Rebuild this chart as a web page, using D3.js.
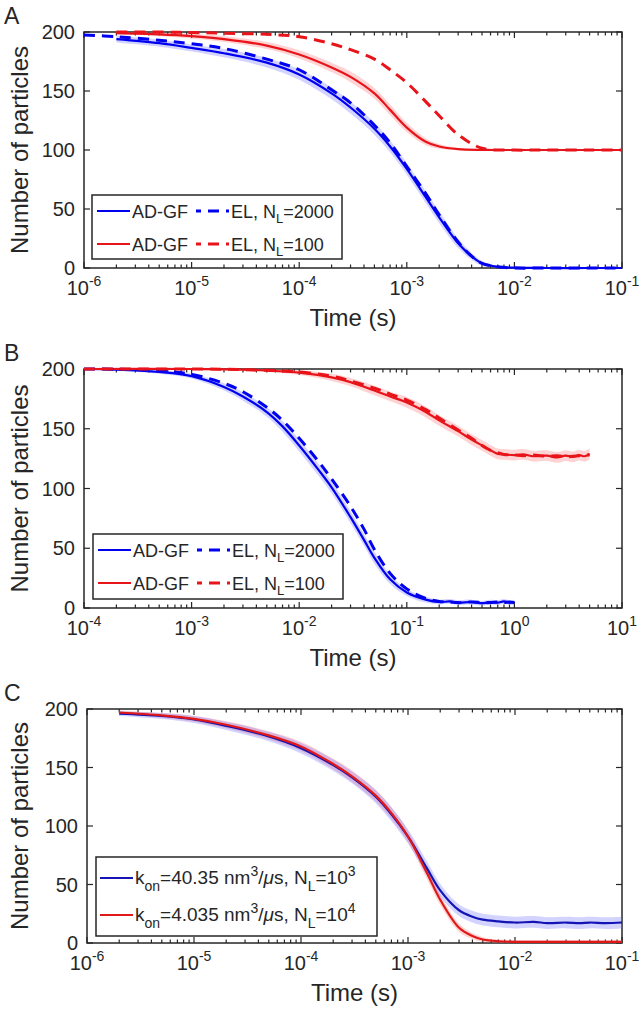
<!DOCTYPE html>
<html>
<head>
<meta charset="utf-8">
<script src="https://cdn.jsdelivr.net/npm/d3@7"></script>
<style>
  body { margin: 0; background: #fff; }
  svg { display: block; font-family: "Liberation Sans", Arial, Helvetica, sans-serif; }
  text { fill: #262626; }
</style>
</head>
<body>
<svg id="fig" width="641" height="1019"></svg>
<script>
// ---- panel A data ----
var aBlueT   = [2e-6, 5e-6, 1e-5, 2e-5, 5e-5, 1e-4, 2e-4, 3e-4, 5e-4, 7e-4, 1e-3, 1.5e-3, 2e-3, 3e-3, 4e-3, 5e-3, 7e-3, 1e-2, 2e-2, 5e-2, 1e-1];
var aBlueGF  = [194, 190.5, 186.5, 182, 174, 164, 148, 136, 118, 103, 84, 60, 43, 21, 10, 4, 1, 0.3, 0, 0, 0];
var aBlueBand = [3, 3, 3, 3.5, 4, 4.5, 5, 5, 5, 5, 5, 5, 5, 4, 3, 2, 1, 0.5, 0, 0, 0];
var aBlueElT = [1e-6, 2e-6, 5e-6, 1e-5, 2e-5, 5e-5, 1e-4, 2e-4, 3e-4, 5e-4, 7e-4, 1e-3, 1.5e-3, 2e-3, 3e-3, 4e-3, 5e-3, 7e-3, 1e-2, 2e-2, 5e-2, 1e-1];
var aBlueEL  = [197.5, 196, 193, 190, 186, 177, 168, 151, 140, 121, 106, 86, 63, 45, 22, 10, 4, 1, 0, 0, 0, 0];
var aRedT    = [2e-6, 5e-6, 1e-5, 2e-5, 5e-5, 1e-4, 2e-4, 3e-4, 5e-4, 7e-4, 1e-3, 1.5e-3, 2e-3, 3e-3, 5e-3, 1e-2, 2e-2, 5e-2, 1e-1];
var aRedGF   = [199, 198, 196.5, 194, 188.5, 181, 170, 162, 148, 134, 119, 107, 103, 100.8, 100.1, 100, 100, 100, 100];
var aRedBand = [1, 1.5, 2, 2.5, 3, 3.5, 4, 4.5, 4.5, 4.5, 4, 3, 2, 1, 0.5, 0.3, 0.3, 0.3, 0.3];
var aRedEL   = [200, 200, 199.5, 199, 198, 196, 190, 185, 177, 168, 157, 141, 129, 113, 101.5, 100, 100, 100, 100];

// ---- panel B data ----
var bBlueT   = [1e-4, 2e-4, 5e-4, 1e-3, 2e-3, 3e-3, 5e-3, 7e-3, 1e-2, 1.5e-2, 2e-2, 3e-2, 4e-2, 5e-2, 7e-2, 1e-1, 1.5e-1, 2e-1, 2.5e-1, 3e-1, 4e-1, 5e-1, 6e-1, 7e-1, 8e-1, 9e-1, 1];
var bBlueGF  = [200, 199.5, 197.5, 194, 185, 177, 164, 152, 136, 116, 101, 76, 57, 42, 24, 13, 7, 5, 5.5, 4.5, 5, 4, 5, 4.5, 5.5, 4.5, 5];
var bBlueEL  = [200, 199.8, 198.5, 195.5, 188, 181, 168, 157, 142, 123, 108, 85, 66, 49, 29, 16, 8, 5.5, 5, 4.5, 5, 4.5, 4.5, 5, 4.5, 5, 4.5];
var bBlueBand = [0.5, 1, 1.5, 2, 3, 3.5, 4, 4.5, 5, 5, 5, 5, 5, 5, 4, 3, 2.5, 2, 2, 2, 2, 2, 2, 2, 2, 2, 2];
var bRedT    = [1e-4, 1e-3, 3e-3, 1e-2, 2e-2, 3e-2, 5e-2, 7e-2, 1e-1, 1.5e-1, 2e-1, 3e-1, 4e-1, 5e-1, 6e-1, 7e-1, 8e-1, 1, 1.2, 1.5, 2, 2.5, 3, 3.5, 4, 4.5, 5];
var bRedGF   = [200, 200, 199.5, 197, 193, 189, 182, 177, 172, 164, 157, 148, 141, 136, 132, 129, 128.5, 128, 128.5, 127, 127.5, 126, 127.5, 126.5, 128, 127, 129];
var bRedEL   = [200, 200, 199.5, 197.5, 194, 190, 184, 179, 174, 166, 159, 149, 142, 136, 132, 130, 128.5, 128, 127.5, 128, 127, 127.5, 126.5, 127, 127.5, 128, 128];
var bRedBand = [0.5, 0.5, 1, 2, 3, 3.5, 4, 4, 4.5, 4.5, 4.5, 4.5, 4.5, 4.5, 4.5, 4.5, 4.5, 4.5, 4.5, 4.5, 4.5, 4.5, 4.5, 4.5, 4.5, 4.5, 4.5];

// ---- panel C data ----
var cT       = [2e-6, 5e-6, 1e-5, 2e-5, 5e-5, 1e-4, 2e-4, 3e-4, 5e-4, 7e-4, 1e-3, 1.5e-3, 2e-3, 3e-3, 4e-3, 5e-3, 7e-3, 1e-2, 1.5e-2, 2e-2, 3e-2, 4e-2, 5e-2, 7e-2, 1e-1];
var cBlue    = [196, 194, 191, 185.5, 176.5, 166.5, 152, 141.5, 125, 110, 91, 64, 45, 28, 22.5, 20, 18.5, 17.5, 18, 17, 17.5, 17, 17.5, 17, 17.5];
var cBlueBand = [2, 2.5, 3, 3.5, 4, 4.5, 5, 5, 5.5, 6, 6, 6, 5.5, 5, 5, 5, 5, 5, 5, 5, 5, 5, 5, 5, 5];
var cRed     = [197, 194.5, 191.5, 186.5, 177.5, 168, 153, 142.5, 126, 111, 91, 60, 37, 13, 6, 3, 1.5, 1, 1, 1, 1, 1, 1, 1, 1];
var cRedBand = [1.5, 2, 2.5, 3, 3.5, 4, 4.5, 5, 5, 5, 5, 5, 4.5, 3.5, 2.5, 2, 1.5, 1.5, 1.5, 1.5, 1.5, 1.5, 1.5, 1.5, 1.5];

var yTicks = [0, 50, 100, 150, 200];

var BLUE = "#0000f0", RED = "#e8141a";
var BLUE_C = "#1414b4", RED_C = "#e01818";
var BLUE_BAND = "rgba(110,110,255,0.30)", RED_BAND = "rgba(255,110,110,0.30)";
var DARK = "#262626";

var svg = d3.select("#fig");

function pts(ts, vs) { return ts.map(function(t, i) { return {t: t, v: vs[i]}; }); }
function bandPts(ts, vs, ws) { return ts.map(function(t, i) { return {t: t, lo: vs[i] - ws[i], hi: vs[i] + ws[i]}; }); }

function panel(cfg) {
  var x = d3.scaleLog().domain(cfg.xDomain).range([cfg.left, cfg.right]);
  var y = d3.scaleLinear().domain([0, 200]).range([cfg.bottom, cfg.top]);
  var g = svg.append("g");

  // panel letter
  g.append("text").attr("x", 4).attr("y", cfg.top - 8)
    .style("font-size", "23px").text(cfg.letter);

  // frame
  g.append("rect").attr("x", cfg.left).attr("y", cfg.top)
    .attr("width", cfg.right - cfg.left).attr("height", cfg.bottom - cfg.top)
    .attr("fill", "none").attr("stroke", DARK).attr("stroke-width", 1.5);

  // x ticks (log major + minor), inward on bottom and top
  var lo = Math.round(Math.log10(cfg.xDomain[0])), hi = Math.round(Math.log10(cfg.xDomain[1]));
  for (var e = lo; e <= hi; e++) {
    for (var m = 1; m <= 9; m++) {
      var tv = m * Math.pow(10, e);
      if (tv > cfg.xDomain[1] * 1.0001) break;
      var len = m === 1 ? 6 : 3.5;
      var xp = x(tv);
      g.append("line").attr("x1", xp).attr("x2", xp).attr("y1", cfg.bottom).attr("y2", cfg.bottom - len)
        .attr("stroke", DARK).attr("stroke-width", 1.2);
      g.append("line").attr("x1", xp).attr("x2", xp).attr("y1", cfg.top).attr("y2", cfg.top + len)
        .attr("stroke", DARK).attr("stroke-width", 1.2);
    }
    var lab = g.append("text").attr("x", x(Math.pow(10, e))).attr("y", cfg.bottom + 27)
      .attr("text-anchor", "middle").style("font-size", "20px");
    lab.append("tspan").text("10");
    lab.append("tspan").attr("dy", -9).style("font-size", "14px").text(String(e));
  }

  // y ticks
  yTicks.forEach(function(v) {
    g.append("line").attr("x1", cfg.left).attr("x2", cfg.left + 6).attr("y1", y(v)).attr("y2", y(v))
      .attr("stroke", DARK).attr("stroke-width", 1.2);
    g.append("line").attr("x1", cfg.right).attr("x2", cfg.right - 6).attr("y1", y(v)).attr("y2", y(v))
      .attr("stroke", DARK).attr("stroke-width", 1.2);
    g.append("text").attr("x", cfg.left - 9).attr("y", y(v) + 7)
      .attr("text-anchor", "end").style("font-size", "20px").text(v);
  });

  // axis titles
  g.append("text").attr("x", (cfg.left + cfg.right) / 2).attr("y", cfg.bottom + 58)
    .attr("text-anchor", "middle").style("font-size", "24px").text("Time (s)");
  g.append("text")
    .attr("transform", "translate(" + 28 + "," + (cfg.top + cfg.bottom) / 2 + ") rotate(-90)")
    .attr("text-anchor", "middle").style("font-size", "24px").text("Number of particles");

  var line = d3.line().x(function(d) { return x(d.t); }).y(function(d) { return y(d.v); })
    .curve(d3.curveCatmullRom.alpha(0.5));
  var area = d3.area().x(function(d) { return x(d.t); })
    .y0(function(d) { return y(Math.max(0, d.lo)); }).y1(function(d) { return y(Math.min(200, d.hi)); })
    .curve(d3.curveCatmullRom.alpha(0.5));

  cfg.bands.forEach(function(b) {
    g.append("path").datum(b.data).attr("d", area).attr("fill", b.color).attr("stroke", "none");
  });
  cfg.series.forEach(function(s) {
    g.append("path").datum(s.data).attr("d", line).attr("fill", "none")
      .attr("stroke", s.color).attr("stroke-width", s.dash ? 3 : 2.2)
      .attr("stroke-dasharray", s.dash ? "11,7" : null);
  });
  return g;
}

function sub(t, s) { t.append("tspan").attr("dy", 5).style("font-size", "13px").text(s); }

function legendAB(g, bx, by, bw, bh) {
  g.append("rect").attr("x", bx).attr("y", by).attr("width", bw).attr("height", bh)
    .attr("fill", "#fff").attr("stroke", DARK).attr("stroke-width", 1.5);
  var rows = [{c: BLUE, n: "2000"}, {c: RED, n: "100"}];
  rows.forEach(function(r, i) {
    var cy = by + 16 + i * 33;
    g.append("line").attr("x1", bx + 5).attr("x2", bx + 38).attr("y1", cy).attr("y2", cy)
      .attr("stroke", r.c).attr("stroke-width", 2);
    g.append("text").attr("x", bx + 40).attr("y", cy + 6.5).style("font-size", "18px").text("AD-GF");
    g.append("line").attr("x1", bx + 104).attr("x2", bx + 137).attr("y1", cy).attr("y2", cy)
      .attr("stroke", r.c).attr("stroke-width", 3).attr("stroke-dasharray", "5,7,11,7,5");
    var t = g.append("text").attr("x", bx + 139).attr("y", cy + 6.5).style("font-size", "18px");
    t.append("tspan").text("EL, N");
    sub(t, "L");
    t.append("tspan").attr("dy", -5).text("=" + r.n);
  });
}

// Panel A
var gA = panel({
  letter: "A", left: 84, right: 622, top: 32, bottom: 268, xDomain: [1e-6, 1e-1],
  bands: [{data: bandPts(aRedT, aRedGF, aRedBand), color: RED_BAND},
          {data: bandPts(aBlueT, aBlueGF, aBlueBand), color: BLUE_BAND}],
  series: [{data: pts(aBlueT, aBlueGF), color: BLUE},
           {data: pts(aRedT, aRedGF), color: RED},
           {data: pts(aBlueElT, aBlueEL), color: BLUE, dash: true},
           {data: pts(aRedT, aRedEL), color: RED, dash: true}]
});
legendAB(gA, 92, 195, 250, 64);

// Panel B
var gB = panel({
  letter: "B", left: 84, right: 622, top: 369, bottom: 608, xDomain: [1e-4, 1e1],
  bands: [{data: bandPts(bRedT, bRedGF, bRedBand), color: RED_BAND},
          {data: bandPts(bBlueT, bBlueGF, bBlueBand), color: BLUE_BAND}],
  series: [{data: pts(bBlueT, bBlueGF), color: BLUE},
           {data: pts(bRedT, bRedGF), color: RED},
           {data: pts(bBlueT, bBlueEL), color: BLUE, dash: true},
           {data: pts(bRedT, bRedEL), color: RED, dash: true}]
});
legendAB(gB, 93, 534, 250, 65);

// Panel C
var gC = panel({
  letter: "C", left: 87, right: 622, top: 709, bottom: 943, xDomain: [1e-6, 1e-1],
  bands: [{data: bandPts(cT, cRed, cRedBand), color: RED_BAND},
          {data: bandPts(cT, cBlue, cBlueBand), color: BLUE_BAND}],
  series: [{data: pts(cT, cBlue), color: BLUE_C},
           {data: pts(cT, cRed), color: RED_C}]
});
(function() {
  var bx = 96, by = 857, bw = 281, bh = 79;
  gC.append("rect").attr("x", bx).attr("y", by).attr("width", bw).attr("height", bh)
    .attr("fill", "#fff").attr("stroke", DARK).attr("stroke-width", 1.5);
  var rows = [{c: BLUE_C, k: "40.35", n: "3"}, {c: RED_C, k: "4.035", n: "4"}];
  rows.forEach(function(r, i) {
    var cy = by + 21 + i * 37;
    gC.append("line").attr("x1", bx + 4).attr("x2", bx + 37).attr("y1", cy).attr("y2", cy)
      .attr("stroke", r.c).attr("stroke-width", 2);
    var t = gC.append("text").attr("x", bx + 39).attr("y", cy + 6).style("font-size", "19px");
    t.append("tspan").text("k");
    t.append("tspan").attr("dy", 7).style("font-size", "14px").text("on");
    t.append("tspan").attr("dy", -7).text("=" + r.k + " nm");
    t.append("tspan").attr("dy", -8).style("font-size", "14px").text("3");
    t.append("tspan").attr("dy", 8).text("/");
    t.append("tspan").style("font-style", "italic").text("\u03bc");
    t.append("tspan").text("s, N");
    t.append("tspan").attr("dy", 7).style("font-size", "14px").text("L");
    t.append("tspan").attr("dy", -7).text("=10");
    t.append("tspan").attr("dy", -8).style("font-size", "14px").text(r.n);
  });
})();
</script>
</body>
</html>
